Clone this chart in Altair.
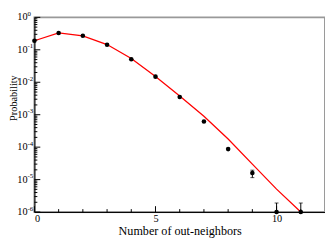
import altair as alt
import pandas as pd

# Observed points (number of out-neighbors vs probability)
pt_x = [0, 1, 2, 3, 4, 5, 6, 7, 8, 9, 10, 11]
pt_y = [0.19, 0.33, 0.27, 0.143, 0.051, 0.0149, 0.0035, 6.2e-4, 8.7e-5, 1.6e-5, 1e-6, 1e-6]

# Error bars
err_x = [9, 10, 11]
err_lo = [1.15e-5, 1e-6, 1e-6]
err_hi = [1.95e-5, 1.9e-6, 1.9e-6]

# Fitted curve
fit_x = [0, 1, 2, 3, 4, 5, 6, 7, 8, 9, 10, 11]
fit_y = [0.19, 0.33, 0.27, 0.145, 0.054, 0.0151, 0.0038, 8.9e-4, 1.78e-4, 3.0e-5, 5.1e-6, 1.0e-6]

# Axis ticks
y_major = [1e-6, 1e-5, 1e-4, 1e-3, 1e-2, 1e-1, 1]
y_exp = ["-6", "-5", "-4", "-3", "-2", "-1", "0"]
y_minor = [m * 10.0 ** k for k in range(-6, 0) for m in range(2, 10)]
x_major = [0, 5, 10]
x_minor = [1, 2, 3, 4, 6, 7, 8, 9, 11]

W, H = 297, 199
FONT = "Liberation Serif"

pts = pd.DataFrame({"x": pt_x, "y": pt_y})
err = pd.DataFrame({"x": err_x, "lo": err_lo, "hi": err_hi})
fit = pd.DataFrame({"x": fit_x, "y": fit_y})
ymaj = pd.DataFrame({"y": y_major, "e": y_exp})
ymin = pd.DataFrame({"y": y_minor})
xmaj = pd.DataFrame({"x": x_major})
xmin = pd.DataFrame({"x": x_minor})

xs = alt.Scale(domain=[0, 12], nice=False)
ys = alt.Scale(type="log", domain=[1e-6, 1], nice=False)

xaxis = alt.Axis(values=x_major, format="d", ticks=False, grid=False, domainColor="black",
                 labelFont=FONT, labelFontSize=10.5, labelColor="black", labelPadding=2,
                 title="Number of out-neighbors", titleFont=FONT, titleFontSize=12.4,
                 titleFontWeight="normal", titleColor="black", titlePadding=0)
yaxis = alt.Axis(labels=False, ticks=False, grid=False, domainColor="black",
                 title="Probability", titleFont=FONT, titleFontSize=10.5,
                 titleFontWeight="normal", titleColor="black", titlePadding=16,
                 titleY=82)

line = alt.Chart(fit).mark_line(color="#ff0000", strokeWidth=1.3).encode(
    x=alt.X("x:Q", scale=xs, axis=xaxis),
    y=alt.Y("y:Q", scale=ys, axis=yaxis),
)

bars = alt.Chart(err).mark_rule(color="black", strokeWidth=1).encode(
    x=alt.X("x:Q", scale=xs), y=alt.Y("lo:Q", scale=ys), y2="hi:Q")
cap_hi = alt.Chart(err).mark_tick(color="black", orient="horizontal", size=4, thickness=1).encode(
    x=alt.X("x:Q", scale=xs), y=alt.Y("hi:Q", scale=ys))
cap_lo = alt.Chart(err[err["x"] == 9]).mark_tick(color="black", orient="horizontal", size=4, thickness=1).encode(
    x=alt.X("x:Q", scale=xs), y=alt.Y("lo:Q", scale=ys))

dots = alt.Chart(pts).mark_circle(color="black", size=22, opacity=1).encode(
    x=alt.X("x:Q", scale=xs), y=alt.Y("y:Q", scale=ys))

ytick_major = alt.Chart(ymaj).mark_rule(color="black", strokeWidth=1).encode(
    y=alt.Y("y:Q", scale=ys), x=alt.value(0), x2=alt.value(6))
ytick_minor = alt.Chart(ymin).mark_rule(color="black", strokeWidth=1).encode(
    y=alt.Y("y:Q", scale=ys), x=alt.value(0), x2=alt.value(3))
xtick_major = alt.Chart(xmaj).mark_rule(color="black", strokeWidth=1).encode(
    x=alt.X("x:Q", scale=xs), y=alt.value(H), y2=alt.value(H - 6))
xtick_minor = alt.Chart(xmin).mark_rule(color="black", strokeWidth=1).encode(
    x=alt.X("x:Q", scale=xs), y=alt.value(H), y2=alt.value(H - 3))

ylab = alt.Chart(ymaj).mark_text(font=FONT, fontSize=10.5, align="right", baseline="middle",
                                 color="black").encode(
    y=alt.Y("y:Q", scale=ys), x=alt.value(-7), text=alt.value("10"))
yexp = alt.Chart(ymaj).mark_text(font=FONT, fontSize=7, align="left", baseline="middle",
                                 dy=-3.5, color="black").encode(
    y=alt.Y("y:Q", scale=ys), x=alt.value(-7), text="e:N")

chart = alt.layer(
    line, ytick_minor, ytick_major, xtick_minor, xtick_major,
    bars, cap_hi, cap_lo, dots, ylab, yexp
).properties(
    width=W, height=H,
    padding={"left": 27, "top": 7, "right": 0, "bottom": 26},
    autosize=alt.AutoSizeParams(type="none"),
).configure_view(
    stroke="#999999", strokeWidth=2
)

chart.save("out.html", embed_options={"renderer": "svg", "actions": False})
